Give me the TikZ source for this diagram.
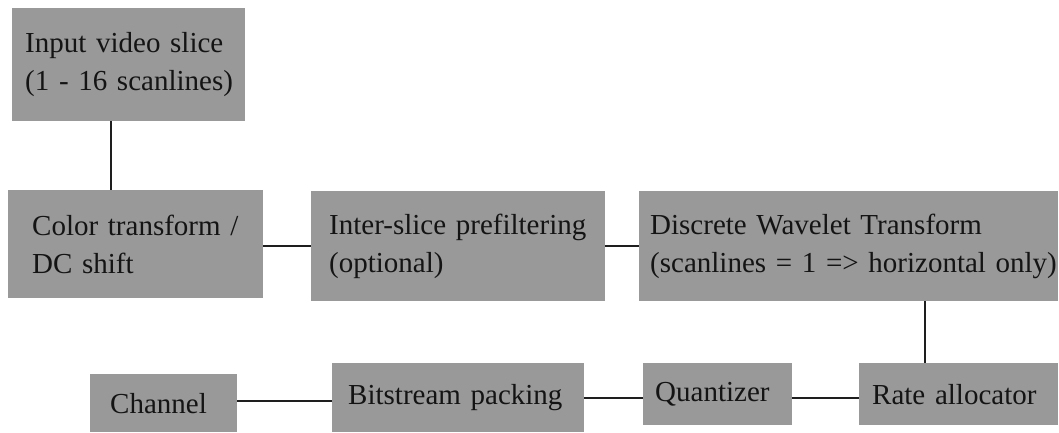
\documentclass[tikz,border=0pt]{standalone}
\usepackage{fontspec}
\setmainfont{Liberation Serif}
\definecolor{boxgray}{RGB}{153,153,153}
\definecolor{inkc}{RGB}{20,20,20}
\definecolor{linec}{RGB}{30,30,30}
\begin{document}
\begin{tikzpicture}[x=1pt,y=-1pt,
  blk/.style={fill=boxgray, draw=none, anchor=north west, inner ysep=0pt,
    align=left, text=inkc, font=\fontsize{29}{37.5}\selectfont},
  conn/.style={draw=linec, line width=1.6pt}]
\useasboundingbox (0,0) rectangle (1059,432);
\node[blk, minimum width=233pt, minimum height=113pt, inner xsep=13pt, text width=207pt] (b1) at (12,8)
  {\mbox{Input video slice}\\\mbox{(1 - 16 scanlines)}};
\node[blk, minimum width=255pt, minimum height=108pt, inner xsep=24pt, text width=207pt] (b2) at (8,190)
  {\mbox{Color transform /}\\\mbox{DC shift}};
\node[blk, minimum width=294pt, minimum height=110pt, inner xsep=18pt, text width=258pt] (b3) at (311,191)
  {\mbox{Inter-slice prefiltering}\\\mbox{(optional)}};
\node[blk, minimum width=419pt, minimum height=110pt, inner xsep=11pt, text width=397pt] (b4) at (639,191)
  {\mbox{Discrete Wavelet Transform}\\\mbox{(scanlines = 1 => horizontal only)}};
\node[blk, minimum width=147pt, minimum height=58pt, inner xsep=20pt, text width=107pt] (b5) at (90,374)
  {\mbox{Channel}};
\node[blk, minimum width=252pt, minimum height=69pt, inner xsep=16pt, text width=220pt] (b6) at (332,363)
  {\mbox{Bitstream packing}};
\node[blk, minimum width=149pt, minimum height=62pt, inner xsep=12pt, text width=125pt] (b7) at (643,363)
  {\mbox{Quantizer}};
\node[blk, minimum width=199pt, minimum height=62pt, inner xsep=13pt, text width=173pt] (b8) at (859,363)
  {\mbox{Rate allocator}};
\coordinate (v1) at (111,0);
\coordinate (v2) at (925,0);
\coordinate (h1) at (0,246);
\coordinate (h2) at (0,398);
\coordinate (h3) at (0,401);
\draw[conn] (b1.south -| v1) -- (b2.north -| v1);
\draw[conn] (b2.east |- h1) -- (b3.west |- h1);
\draw[conn] (b3.east |- h1) -- (b4.west |- h1);
\draw[conn] (b4.south -| v2) -- (b8.north -| v2);
\draw[conn] (b8.west |- h2) -- (b7.east |- h2);
\draw[conn] (b7.west |- h2) -- (b6.east |- h2);
\draw[conn] (b6.west |- h3) -- (b5.east |- h3);
\end{tikzpicture}
\end{document}
